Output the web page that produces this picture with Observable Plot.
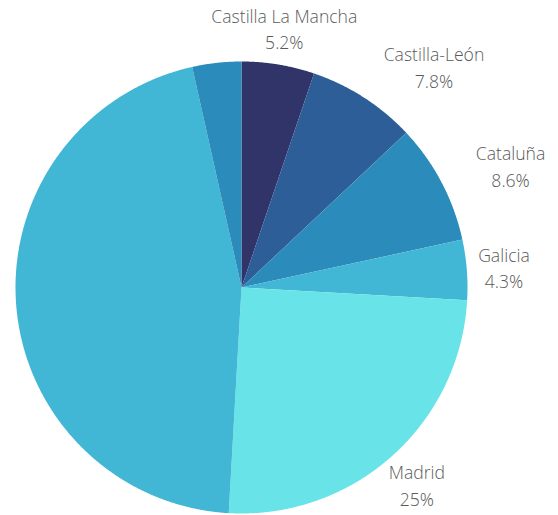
<!DOCTYPE html>
<html>
<head>
<meta charset="utf-8">
<script src="https://cdn.jsdelivr.net/npm/d3@7"></script>
<script src="https://cdn.jsdelivr.net/npm/@observablehq/plot@0.6"></script>
<style>
  html, body { margin: 0; padding: 0; background: #ffffff; }
</style>
</head>
<body>
<div id="chart"></div>
<script>
// ---- data ----
const regions = ["Castilla La Mancha", "Castilla-León", "Cataluña", "Galicia", "Madrid", "", ""];
const shares = [5.2, 7.8, 8.6, 4.3, 25, 45.6, 3.5];

// ---- style ----
const sliceColors = ["#303468", "#2e5e98", "#2b8bba", "#41b6d5", "#68e4e8", "#41b6d5", "#2b8bba"];
const labelDx = [0, 50, 36, 0, 0, 0, 0];
const labelRadius = 1.165;

// pie geometry in unit-circle coordinates (angle from 12 o'clock, clockwise)
const arcs = d3.pie().sort(null).value(d => d)(shares);

function slicePolygon(a0, a1) {
  const n = Math.max(2, Math.ceil((a1 - a0) / (Math.PI / 720)));
  const pts = [[0, 0]];
  for (let i = 0; i <= n; i++) {
    const a = a0 + (a1 - a0) * i / n;
    pts.push([Math.sin(a), Math.cos(a)]);
  }
  pts.push([0, 0]);
  return pts;
}

const slices = arcs.map((p, i) => ({
  type: "Feature",
  properties: {region: regions[i], share: shares[i], color: sliceColors[i]},
  geometry: {type: "Polygon", coordinates: [slicePolygon(p.startAngle, p.endAngle)]}
}));

const labels = arcs.map((p, i) => {
  const mid = (p.startAngle + p.endAngle) / 2;
  return {
    region: regions[i],
    text: `${regions[i]}\n${shares[i]}%`,
    x: labelRadius * Math.sin(mid),
    y: labelRadius * Math.cos(mid),
    dx: labelDx[i]
  };
}).filter(d => d.region);

const chart = Plot.plot({
  width: 558,
  height: 515,
  marginLeft: 15,
  marginRight: 91,
  marginTop: 61,
  marginBottom: 2,
  projection: {
    type: "reflect-y",
    domain: {type: "MultiPoint", coordinates: [[-1, -1], [1, 1]]},
    inset: 0,
    clip: false
  },
  style: {background: "#ffffff", overflow: "visible"},
  marks: [
    Plot.geo(slices, {fill: d => d.properties.color, stroke: "none"}),
    ...labels.map(d => Plot.text([d], {
      x: "x",
      y: "y",
      text: "text",
      dx: d.dx,
      textAnchor: "middle",
      lineAnchor: "middle",
      lineHeight: 1.5,
      fontSize: 17.6,
      fontFamily: "'Open Sans Light', 'Open Sans', sans-serif",
      fontWeight: 300,
      fill: "#5a5a5a"
    }))
  ]
});

document.getElementById("chart").appendChild(chart);
</script>
</body>
</html>
